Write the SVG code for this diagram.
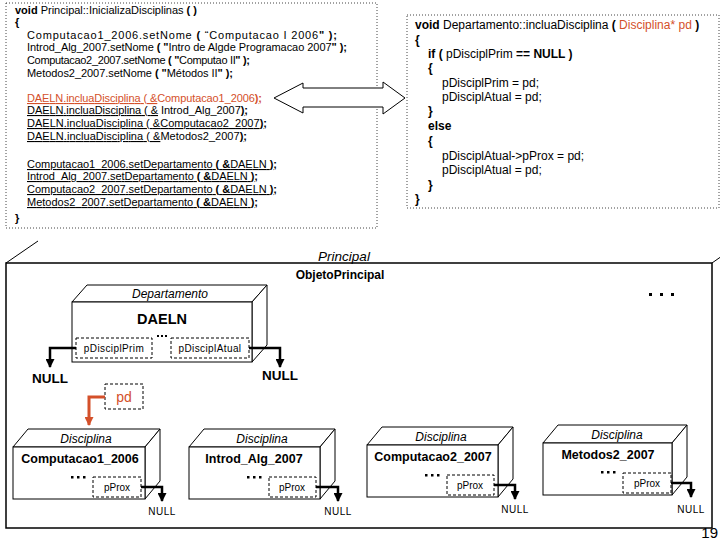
<svg xmlns="http://www.w3.org/2000/svg" width="720" height="540" viewBox="0 0 720 540">
<style>
text{font-family:"Liberation Sans",Arial,sans-serif;fill:#000}
.code{font-size:11px}
.rc{font-size:12px}
.b{font-weight:bold}
.u{text-decoration:underline}
.or{fill:#D4502A}
.it{font-style:italic}
.dot{fill:none;stroke:#444;stroke-width:1;stroke-dasharray:1 2}
.box{fill:#fff;stroke:#000;stroke-width:1}
.dash{fill:none;stroke:#000;stroke-width:1;stroke-dasharray:3 2}
.ptr{fill:none;stroke:#000;stroke-width:2.5}
.ptro{fill:none;stroke:#D4502A;stroke-width:3}
.lbl{font-size:10px;text-anchor:middle}
.nm{font-size:12.5px;font-weight:bold;text-anchor:middle}
.cls{font-size:12px;font-style:italic;text-anchor:middle}
.null{font-size:10px;text-anchor:middle;letter-spacing:0.5px}
</style>
<defs>
<marker id="ah" markerUnits="userSpaceOnUse" markerWidth="9" markerHeight="9" refX="8" refY="4.5" orient="auto"><path d="M0,0 L9,4.5 L0,9 z" fill="#000"/></marker>
<marker id="aho" markerUnits="userSpaceOnUse" markerWidth="9" markerHeight="9" refX="8" refY="4.5" orient="auto"><path d="M0,0 L9,4.5 L0,9 z" fill="#D4502A"/></marker>
</defs>

<g id="code-principal">
<rect class="dot" x="6" y="3" width="371" height="225" fill="#fff"/>
<text class="code" x="15" y="14" textLength="182" lengthAdjust="spacing"><tspan class="b">void</tspan> Principal::InicializaDisciplinas <tspan class="b">( )</tspan></text>
<text class="code b" x="15" y="26">{</text>
<text class="code" x="27" y="39" textLength="310" lengthAdjust="spacing">Computacao1_2006.setNome <tspan class="b">(</tspan> “Computacao I 2006<tspan class="b">" );</tspan></text>
<text class="code" x="27" y="51" textLength="320" lengthAdjust="spacing">Introd_Alg_2007.setNome <tspan class="b">( "</tspan>Intro de Algde Programacao 2007<tspan class="b">" );</tspan></text>
<text class="code" x="27" y="64" textLength="223" lengthAdjust="spacing">Computacao2_2007.setNome <tspan class="b">( "</tspan>Computao II<tspan class="b">" );</tspan></text>
<text class="code" x="27" y="77" textLength="206" lengthAdjust="spacing">Metodos2_2007.setNome <tspan class="b">( "</tspan>Métodos II<tspan class="b">" );</tspan></text>
<text class="code or" x="27" y="102" textLength="235" lengthAdjust="spacing"><tspan class="u">DAELN.incluaDisciplina ( &amp;</tspan>Computacao1_2006<tspan class="u b">);</tspan></text>
<text class="code" x="27" y="114" textLength="221" lengthAdjust="spacing"><tspan class="u">DAELN.incluaDisciplina ( &amp;</tspan> Introd_Alg_2007<tspan class="u b">);</tspan></text>
<text class="code u" x="27" y="127" textLength="240" lengthAdjust="spacing">DAELN.incluaDisciplina ( &amp;Computacao2_2007<tspan class="b">);</tspan></text>
<text class="code" x="27" y="140" textLength="220" lengthAdjust="spacing"><tspan class="u">DAELN.incluaDisciplina ( &amp;</tspan>Metodos2_2007<tspan class="u b">);</tspan></text>
<text class="code u" x="27" y="168" textLength="250" lengthAdjust="spacing">Computacao1_2006.setDepartamento <tspan class="b">( &amp;</tspan>DAELN <tspan class="b">);</tspan></text>
<text class="code u" x="27" y="180" textLength="231" lengthAdjust="spacing">Introd_Alg_2007.setDepartamento <tspan class="b">( &amp;</tspan>DAELN <tspan class="b">);</tspan></text>
<text class="code u" x="27" y="193" textLength="250" lengthAdjust="spacing">Computacao2_2007.setDepartamento <tspan class="b">( &amp;</tspan>DAELN <tspan class="b">);</tspan></text>
<text class="code u" x="27" y="206" textLength="231" lengthAdjust="spacing">Metodos2_2007.setDepartamento <tspan class="b">( &amp;</tspan>DAELN <tspan class="b">);</tspan></text>
<text class="code b" x="15" y="222">}</text>
</g>

<g id="code-departamento">
<rect class="dot" x="407" y="15" width="312" height="193" fill="#fff"/>
<text class="rc" x="415" y="29"><tspan class="b">void</tspan> Departamento::incluaDisciplina <tspan class="b">(</tspan> <tspan class="or">Disciplina* pd</tspan> <tspan class="b">)</tspan></text>
<text class="rc b" x="415" y="44">{</text>
<text class="rc" x="428" y="58"><tspan class="b">if</tspan> <tspan class="b">(</tspan> pDisciplPrim <tspan class="b">== NULL )</tspan></text>
<text class="rc b" x="428" y="72">{</text>
<text class="rc" x="442" y="87">pDisciplPrim  = pd;</text>
<text class="rc" x="442" y="101">pDisciplAtual = pd;</text>
<text class="rc b" x="428" y="115">}</text>
<text class="rc b" x="428" y="130">else</text>
<text class="rc b" x="428" y="145">{</text>
<text class="rc" x="442" y="160">pDisciplAtual-&gt;pProx = pd;</text>
<text class="rc" x="442" y="174">pDisciplAtual = pd;</text>
<text class="rc b" x="428" y="189">}</text>
<text class="rc b" x="415" y="203">}</text>
</g>

<g id="block-arrow">
<polygon points="274,98 303,83 303,88 383,88 383,82 405,98 383,114 383,107 303,107 303,113" fill="#fff" stroke="#000" stroke-width="1"/>
</g>

<g id="principal">
<line x1="6" y1="263" x2="38" y2="241" stroke="#000" stroke-width="1"/>
<line x1="712" y1="263" x2="722" y2="256" stroke="#000" stroke-width="1"/>
<rect x="6" y="263" width="706" height="265" fill="none" stroke="#000" stroke-width="1.5"/>
<text x="344" y="261" font-size="13.5" font-style="italic" text-anchor="middle">Principal</text>
<text x="340" y="279" font-size="12" font-weight="bold" text-anchor="middle">ObjetoPrincipal</text>
<rect x="649" y="293" width="3" height="3"/><rect x="660" y="293" width="3" height="3"/><rect x="671" y="293" width="3" height="3"/>
</g>

<g id="daeln">
<polygon class="box" points="72,302 87,285 267,285 252,302"/>
<polygon class="box" points="252,302 267,285 267,345 252,362"/>
<rect class="box" x="72" y="302" width="180" height="60"/>
<text class="cls" x="170" y="298">Departamento</text>
<text x="162" y="324" font-size="14.5" font-weight="bold" text-anchor="middle">DAELN</text>
<rect class="dash" x="76" y="338" width="76" height="20"/>
<text class="lbl" x="114" y="352" letter-spacing="0.4">pDisciplPrim</text>
<rect x="157" y="335" width="2" height="2"/><rect x="161" y="335" width="2" height="2"/><rect x="165" y="335" width="2" height="2"/>
<rect class="dash" x="171" y="338" width="78" height="20"/>
<text class="lbl" x="210" y="352" letter-spacing="0.4">pDisciplAtual</text>
</g>

<g id="pd">
<rect class="dash" x="105" y="384" width="38" height="25"/>
<text x="124" y="402" font-size="14" text-anchor="middle" class="or">pd</text>
</g>

<g id="computacao1">
<polygon class="box" points="13,447 28,429 160,429 145,447"/>
<polygon class="box" points="145,447 160,429 160,481 145,499"/>
<rect class="box" x="13" y="447" width="132" height="52"/>
<text class="cls" x="86" y="443">Disciplina</text>
<text class="nm" x="80" y="463">Computacao1_2006</text>
<rect x="71" y="476" width="2.5" height="2.5"/><rect x="77" y="476" width="2.5" height="2.5"/><rect x="83" y="476" width="2.5" height="2.5"/>
<rect class="dash" x="93" y="477" width="48" height="20"/>
<text class="lbl" x="117" y="491">pProx</text>
</g>

<g id="introd">
<polygon class="box" points="189,447 204,429 335,429 320,447"/>
<polygon class="box" points="320,447 335,429 335,481 320,499"/>
<rect class="box" x="189" y="447" width="131" height="52"/>
<text class="cls" x="262" y="443">Disciplina</text>
<text class="nm" x="254" y="463">Introd_Alg_2007</text>
<rect x="247" y="476" width="2.5" height="2.5"/><rect x="253" y="476" width="2.5" height="2.5"/><rect x="259" y="476" width="2.5" height="2.5"/>
<rect class="dash" x="269" y="477" width="47" height="20"/>
<text class="lbl" x="292" y="491">pProx</text>
</g>

<g id="computacao2">
<polygon class="box" points="367,445 382,427 513,427 498,445"/>
<polygon class="box" points="498,445 513,427 513,479 498,497"/>
<rect class="box" x="367" y="445" width="131" height="52"/>
<text class="cls" x="441" y="441">Disciplina</text>
<text class="nm" x="433" y="461">Computacao2_2007</text>
<rect x="425" y="474" width="2.5" height="2.5"/><rect x="431" y="474" width="2.5" height="2.5"/><rect x="437" y="474" width="2.5" height="2.5"/>
<rect class="dash" x="447" y="475" width="47" height="20"/>
<text class="lbl" x="470" y="489">pProx</text>
</g>

<g id="metodos2">
<polygon class="box" points="543,443 558,425 687,425 672,443"/>
<polygon class="box" points="672,443 687,425 687,477 672,495"/>
<rect class="box" x="543" y="443" width="129" height="52"/>
<text class="cls" x="617" y="439">Disciplina</text>
<text class="nm" x="608" y="459">Metodos2_2007</text>
<rect x="601" y="471" width="2.5" height="2.5"/><rect x="607" y="471" width="2.5" height="2.5"/><rect x="613" y="471" width="2.5" height="2.5"/>
<rect class="dash" x="623" y="473" width="48" height="20"/>
<text class="lbl" x="647" y="487">pProx</text>
</g>

<g id="connectors">
<path class="ptr" d="M76,348 H50 V367" marker-end="url(#ah)"/>
<path class="ptr" d="M249,348 H280 V367" marker-end="url(#ah)"/>
<path class="ptro" d="M105,397 H89 V425" marker-end="url(#aho)"/>
<path class="ptr" d="M141,487 H162 V501" marker-end="url(#ah)"/>
<path class="ptr" d="M316,487 H338 V501" marker-end="url(#ah)"/>
<path class="ptr" d="M494,485 H515 V499" marker-end="url(#ah)"/>
<path class="ptr" d="M671,483 H691 V497" marker-end="url(#ah)"/>
</g>

<g id="null-labels">
<text x="50" y="383" font-size="13.5" font-weight="bold" text-anchor="middle">NULL</text>
<text x="280" y="380" font-size="13.5" font-weight="bold" text-anchor="middle">NULL</text>
<text class="null" x="162" y="515">NULL</text>
<text class="null" x="338" y="515">NULL</text>
<text class="null" x="515" y="513">NULL</text>
<text class="null" x="691" y="513">NULL</text>
</g>

<text x="718" y="538" font-size="15" text-anchor="end">19</text>
</svg>
